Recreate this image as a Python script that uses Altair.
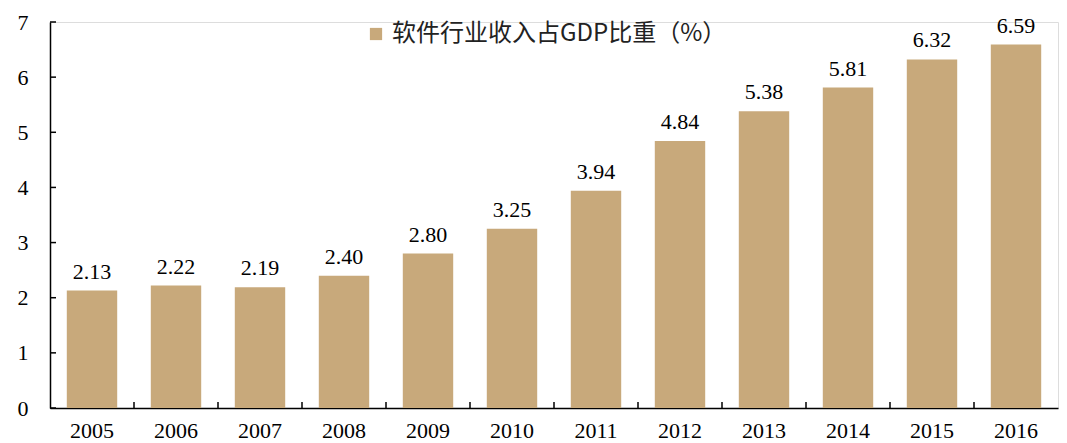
import altair as alt
import pandas as pd

years = ["2005", "2006", "2007", "2008", "2009", "2010", "2011", "2012", "2013", "2014", "2015", "2016"]
values = [2.13, 2.22, 2.19, 2.40, 2.80, 3.25, 3.94, 4.84, 5.38, 5.81, 6.32, 6.59]
series_name = "软件行业收入占GDP比重（%）"
y_ticks = [0, 1, 2, 3, 4, 5, 6, 7]

df = pd.DataFrame({"year": years, "value": values, "series": series_name})
df["label"] = [f"{v:.2f}" for v in values]
ticks_df = pd.DataFrame({"t": y_ticks})

W, H = 1008, 386
BAR = "#C8A97B"

x_enc = alt.X("year:N", sort=years,
              scale=alt.Scale(paddingInner=0, paddingOuter=0),
              axis=alt.Axis(title=None, ticks=False, domain=True, domainColor="black",
                            domainWidth=1.5, labelFont="Liberation Serif", labelFontSize=22,
                            labelColor="black", labelPadding=12, labelAngle=0, grid=False))
y_scale = alt.Scale(domain=[0, 7], nice=False)

bars = alt.Chart(df).mark_bar(width={"band": 0.6}).encode(
    x=x_enc,
    y=alt.Y("value:Q", scale=y_scale,
            axis=alt.Axis(title=None, values=y_ticks, format="d", ticks=False, domainColor="black",
                          domainWidth=1.5, labelFont="Liberation Serif", labelFontSize=22,
                          labelColor="black", labelPadding=22, grid=False)),
    color=alt.Color("series:N", scale=alt.Scale(range=[BAR]),
                    legend=alt.Legend(title=None, orient="none", legendX=314, legendY=0,
                                      symbolType="square", symbolSize=150,
                                      symbolStrokeWidth=0, labelFont="Noto Sans CJK SC",
                                      labelFontSize=24, labelColor="#222", labelLimit=500)),
)

labels = alt.Chart(df).mark_text(baseline="bottom", dy=-7, font="Liberation Serif",
                                 fontSize=22, color="black").encode(
    x=alt.X("year:N", sort=years),
    y=alt.Y("value:Q", scale=y_scale),
    text="label:N",
)

ytick_rules = alt.Chart(ticks_df).mark_rule(color="black", strokeWidth=1.5).encode(
    y=alt.Y("t:Q", scale=y_scale),
    x=alt.value(0), x2=alt.value(6),
)

xtick_rules = alt.Chart(df.iloc[1:]).mark_rule(color="black", strokeWidth=1.5).encode(
    x=alt.X("year:N", sort=years, bandPosition=0),
    y=alt.value(H - 6), y2=alt.value(H),
)

chart = alt.layer(bars, labels, ytick_rules, xtick_rules).properties(
    width=W, height=H,
    autosize=alt.AutoSizeParams(type="none"),
    padding={"left": 42, "top": 14, "right": 1, "bottom": 36},
).configure_view(stroke=None).configure(background="white")

chart.save("out.html", embed_options={"renderer": "svg", "actions": False})
